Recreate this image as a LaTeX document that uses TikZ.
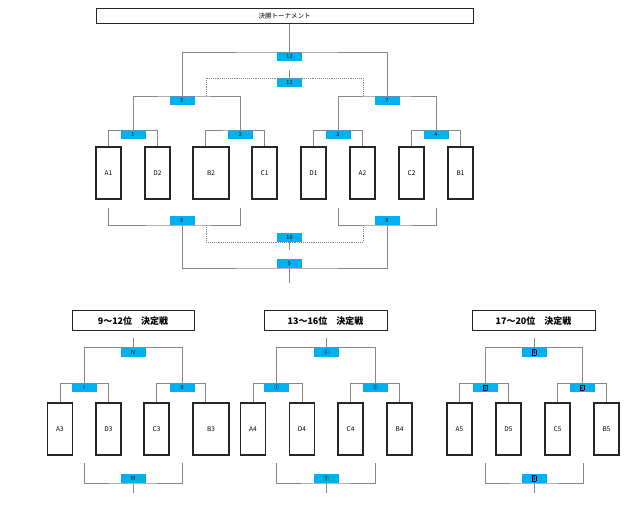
\documentclass[tikz,border=0pt]{standalone}
\usepackage{fontspec}
\setmainfont{Noto Sans CJK JP}
\usepackage{tikz}

\definecolor{gameblue}{RGB}{0,176,240}
\definecolor{linegray}{RGB}{135,135,135}
\newcommand{\boxnum}[1]{{\fboxsep=0.5pt\fboxrule=0.3pt\fbox{#1}}}

\begin{document}
\begin{tikzpicture}[x=1pt,y=-1pt]
            \tikzset{team/.style = {shape=rectangle,draw=black!85,line width=1.1pt,minimum width=25pt,minimum height=52pt,inner sep=0pt,font=\fontsize{6.5}{7}\selectfont}}
            \tikzset{wideteam/.style = {team,minimum width=36pt}}
            \tikzset{game/.style = {shape=rectangle,fill=gameblue,minimum width=25pt,minimum height=9pt,inner sep=0pt,font=\fontsize{5.5}{5.5}\selectfont}}
            \tikzset{banner/.style = {shape=rectangle,draw=black!85,line width=1pt,inner sep=0pt}}
            \tikzset{edge/.style = {draw=linegray,line width=0.9pt}}
            \tikzset{loser/.style = {edge,densely dotted}}
            \useasboundingbox (0,0) rectangle (633,505);

            \node[banner,minimum width=377pt,minimum height=15pt,font=\fontsize{6.5}{7}\selectfont] (final) at (284.5,16.5) {決勝トーナメント};

            \node[team] (a1) at (108.5,173) {A1};
            \node[team] (d2) at (157.5,173) {D2};
            \node[wideteam] (b2) at (211,173) {B2};
            \node[team] (c1) at (264.5,173) {C1};
            \node[team] (d1) at (313.5,173) {D1};
            \node[team] (a2) at (362.5,173) {A2};
            \node[team] (c2) at (411.5,173) {C2};
            \node[team] (b1) at (460.5,173) {B1};

            \node[game,anchor=north] (g1) at (133,130) {1};
            \node[game,anchor=north] (g2) at (240.5,130) {2};
            \node[game,anchor=north] (g3) at (338,130) {3};
            \node[game,anchor=north] (g4) at (436,130) {4};
            \node[game,anchor=north] (g5) at (182,96) {5};
            \node[game,anchor=north] (g7) at (387,96) {7};
            \node[game,anchor=north] (g11) at (289.5,78) {11};
            \node[game,anchor=north] (g12) at (289.5,52) {12};
            \node[game,anchor=south] (g6) at (182,225) {6};
            \node[game,anchor=south] (g8) at (387,225) {8};
            \node[game,anchor=south] (g10) at (289.5,242) {10};
            \node[game,anchor=south] (g9) at (289.5,268) {9};

            \coordinate (l5) at (206,96);
            \coordinate (l7) at (363,96);
            \coordinate (l6) at (206,225);
            \coordinate (l8) at (363,225);
            \coordinate (s1) at (108.5,208);
            \coordinate (s2) at (240.5,208);
            \coordinate (s3) at (338,208);
            \coordinate (s4) at (436,208);
            \coordinate (top11) at (289.5,70);
            \coordinate (out10) at (289.5,250);
            \coordinate (out9) at (289.5,283);

            \draw[edge] (a1.north) |- (g1.north) -| (d2.north);
            \draw[edge] ([xshift=13pt]b2.north west) |- (g2.north) -| (c1.north);
            \draw[edge] (d1.north) |- (g3.north) -| (a2.north);
            \draw[edge] (c2.north) |- (g4.north) -| (b1.north);
            \draw[edge] (g1.north) |- (g5.north) -| (g2.north);
            \draw[edge] (g3.north) |- (g7.north) -| (g4.north);
            \draw[edge] (g5.north) |- (g12.north) -| (g7.north);
            \draw[edge] (final.south -| g12.north) -- (g12.north);
            \draw[loser] (l5) |- (g11.north) -| (l7);
            \draw[edge] (top11) -- (g11.north);
            \draw[edge] (s1) |- (g6.south) -| (s2);
            \draw[edge] (s3) |- (g8.south) -| (s4);
            \draw[edge] (g6.south) |- (g9.south) -| (g8.south);
            \draw[edge] (g9.south) -- (out9);
            \draw[loser] (l6) |- (g10.south) -| (l8);
            \draw[edge] (g10.south) -- (out10);

            \node[banner,minimum width=122pt,minimum height=20pt,font=\bfseries\fontsize{9}{9}\selectfont] (t9) at (133,321) {9～12位　決定戦};
            \node[team] (a3) at (60,429) {A3};
            \node[team] (d3) at (108.5,429) {D3};
            \node[team] (c3) at (156.5,429) {C3};
            \node[wideteam] (b3) at (211,429) {B3};
            \node[game,anchor=north] (r1) at (84,383) {Ⅰ};
            \node[game,anchor=north] (r2) at (182,383) {Ⅱ};
            \node[game,anchor=north] (r4) at (133,347.5) {Ⅳ};
            \node[game,anchor=south] (r3) at (133,483) {Ⅲ};
            \coordinate (u9) at (133,338);
            \coordinate (v9a) at (84,463);
            \coordinate (v9b) at (182,463);
            \coordinate (w9) at (133,493);
            \draw[edge] (a3.north) |- (r1.north) -| (d3.north);
            \draw[edge] (c3.north) |- (r2.north) -| ([xshift=13pt]b3.north west);
            \draw[edge] (r1.north) |- (r4.north) -| (r2.north);
            \draw[edge] (u9) -- (r4.north);
            \draw[edge] (v9a) |- (r3.south) -| (v9b);
            \draw[edge] (r3.south) -- (w9);

            \node[banner,minimum width=123pt,minimum height=20pt,font=\bfseries\fontsize{9}{9}\selectfont] (t13) at (325.5,321) {13～16位　決定戦};
            \node[team] (a4) at (253,429) {A4};
            \node[team] (d4) at (302,429) {D4};
            \node[team] (c4) at (350.5,429) {C4};
            \node[team] (b4) at (399.5,429) {B4};
            \node[game,anchor=north] (q1) at (276.5,383) {①};
            \node[game,anchor=north] (q2) at (375,383) {②};
            \node[game,anchor=north] (q4) at (326,347.5) {④};
            \node[game,anchor=south] (q3) at (326,483) {③};
            \coordinate (u13) at (326,338);
            \coordinate (v13a) at (276.5,463);
            \coordinate (v13b) at (375,463);
            \coordinate (w13) at (326,493);
            \draw[edge] (a4.north) |- (q1.north) -| (d4.north);
            \draw[edge] (c4.north) |- (q2.north) -| (b4.north);
            \draw[edge] (q1.north) |- (q4.north) -| (q2.north);
            \draw[edge] (u13) -- (q4.north);
            \draw[edge] (v13a) |- (q3.south) -| (v13b);
            \draw[edge] (q3.south) -- (w13);

            \node[banner,minimum width=123pt,minimum height=20pt,font=\bfseries\fontsize{9}{9}\selectfont] (t17) at (533.5,321) {17～20位　決定戦};
            \node[team] (a5) at (459.5,429) {A5};
            \node[team] (d5) at (508.5,429) {D5};
            \node[team] (c5) at (557.5,429) {C5};
            \node[team] (b5) at (606.5,429) {B5};
            \node[game,anchor=north] (p1) at (485,383) {\boxnum{1}};
            \node[game,anchor=north] (p2) at (582,383) {\boxnum{2}};
            \node[game,anchor=north] (p4) at (534,347.5) {\boxnum{4}};
            \node[game,anchor=south] (p3) at (534,483) {\boxnum{3}};
            \coordinate (u17) at (534,338);
            \coordinate (v17a) at (485,463);
            \coordinate (v17b) at (583,463);
            \coordinate (w17) at (534,493);
            \draw[edge] (a5.north) |- (p1.north) -| (d5.north);
            \draw[edge] (c5.north) |- (p2.north) -| (b5.north);
            \draw[edge] (p1.north) |- (p4.north) -| (p2.north);
            \draw[edge] (u17) -- (p4.north);
            \draw[edge] (v17a) |- (p3.south) -| (v17b);
            \draw[edge] (p3.south) -- (w17);
        \end{tikzpicture}
\end{document}
